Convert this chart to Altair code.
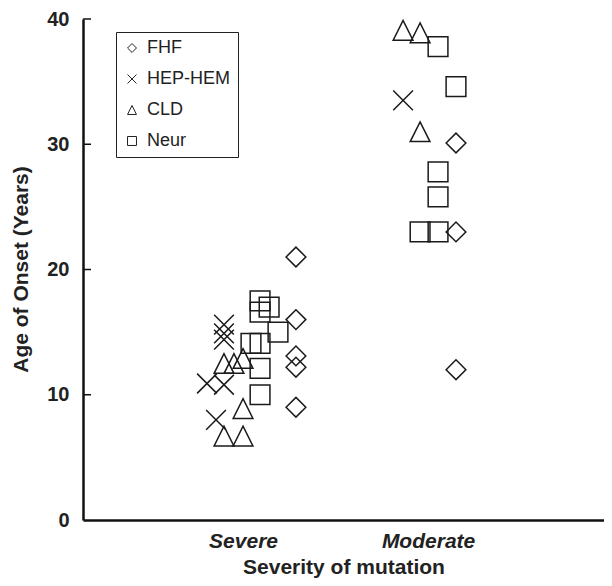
import altair as alt
import pandas as pd

FONT = "Liberation Sans"

groups = ["FHF", "HEP-HEM", "CLD", "Neur"]

# x positions: 1 = Severe, 2 = Moderate (with jitter as drawn)
fhf_x = [1.286, 1.286, 1.286, 1.286, 1.286, 2.151, 2.151, 2.151]
fhf_age = [21.0, 16.0, 13.1, 12.2, 9.0, 30.1, 23.0, 12.0]

hep_x = [0.897, 0.897, 0.897, 0.805, 0.897, 0.854, 1.865]
hep_age = [15.6, 14.9, 14.4, 10.9, 10.8, 8.0, 33.5]

cld_x = [0.897, 0.951, 1.0, 1.0, 0.897, 1.0, 1.865, 1.957, 1.957]
cld_age = [12.5, 12.5, 12.9, 8.9, 6.7, 6.7, 39.1, 38.9, 31.0]

neur_x = [1.092, 1.141, 1.092, 1.189, 1.043, 1.092, 1.092, 1.092,
          2.054, 2.151, 2.054, 2.054, 1.957, 2.054]
neur_age = [17.5, 17.0, 16.6, 15.0, 14.1, 14.1, 12.1, 10.0,
            37.8, 34.6, 27.8, 25.8, 23.0, 23.0]

y_ticks = [0, 10, 20, 30, 40]
x_labels = {1: "Severe", 2: "Moderate"}

rows = []
for g, xs, ys in [("FHF", fhf_x, fhf_age), ("HEP-HEM", hep_x, hep_age),
                  ("CLD", cld_x, cld_age), ("Neur", neur_x, neur_age)]:
    for xv, yv in zip(xs, ys):
        rows.append({"group": g, "pos": xv, "age": yv})
df = pd.DataFrame(rows)
ticks_df = pd.DataFrame({"t": y_ticks[1:]})

shapes = ["diamond", "M-1,-1L1,1M1,-1L-1,1", "M-1,1L1,1L0,-1Z", "square"]

yscale = alt.Scale(domain=[0, 40], nice=False, zero=True)

points = alt.Chart(df).mark_point(
    filled=False, size=390, stroke="#1a1a1a", strokeWidth=1.5, opacity=1
).encode(
    x=alt.X("pos:Q",
            scale=alt.Scale(domain=[0.135, 2.951], nice=False, zero=False),
            axis=alt.Axis(values=[1, 2], ticks=False, grid=False,
                          labelExpr="datum.value == 1 ? 'Severe' : 'Moderate'",
                          labelFont=FONT, labelFontSize=21, labelFontWeight="bold",
                          labelFontStyle="italic", labelColor="#222",
                          labelPadding=10,
                          domainColor="#111", domainWidth=2.5,
                          title="Severity of mutation", titleFont=FONT,
                          titleFontSize=21, titleFontWeight="bold", titleColor="#222",
                          titleY=36, titleBaseline="top")),
    y=alt.Y("age:Q", scale=yscale,
            axis=alt.Axis(values=y_ticks, ticks=False, grid=False,
                          labelFont=FONT, labelFontSize=20, labelFontWeight="bold",
                          labelColor="#222", labelPadding=14,
                          domainColor="#111", domainWidth=2.5,
                          title="Age of Onset (Years)", titleFont=FONT,
                          titleFontSize=21, titleFontWeight="bold", titleColor="#222",
                          titleX=-62, titleY=250, titleAngle=-90,
                          titleAlign="center", titleBaseline="middle")),
    shape=alt.Shape("group:N",
                    scale=alt.Scale(domain=groups, range=shapes),
                    title=None,
                    legend=alt.Legend(orient="none", legendX=33, legendY=13,
                                      strokeColor="#222", fillColor="white",
                                      padding=7, rowPadding=13,
                                      labelFont=FONT, labelFontSize=18,
                                      labelColor="#222", labelOffset=6,
                                      symbolSize=80, symbolStrokeWidth=1,
                                      symbolStrokeColor="#222",
                                      symbolFillColor="transparent")),
)

tick_marks = alt.Chart(ticks_df).mark_rule(color="#111", strokeWidth=1.5).encode(
    y=alt.Y("t:Q", scale=yscale),
    x=alt.value(0),
    x2=alt.value(8),
)

chart = alt.layer(points, tick_marks).properties(
    width=521, height=501,
    padding={"left": 75, "top": 11, "right": 0, "bottom": 62},
    autosize=alt.AutoSizeParams(type="none"),
    background="white",
).configure_view(stroke=None)

chart.save("out.html", embed_options={"renderer": "svg", "actions": False})
